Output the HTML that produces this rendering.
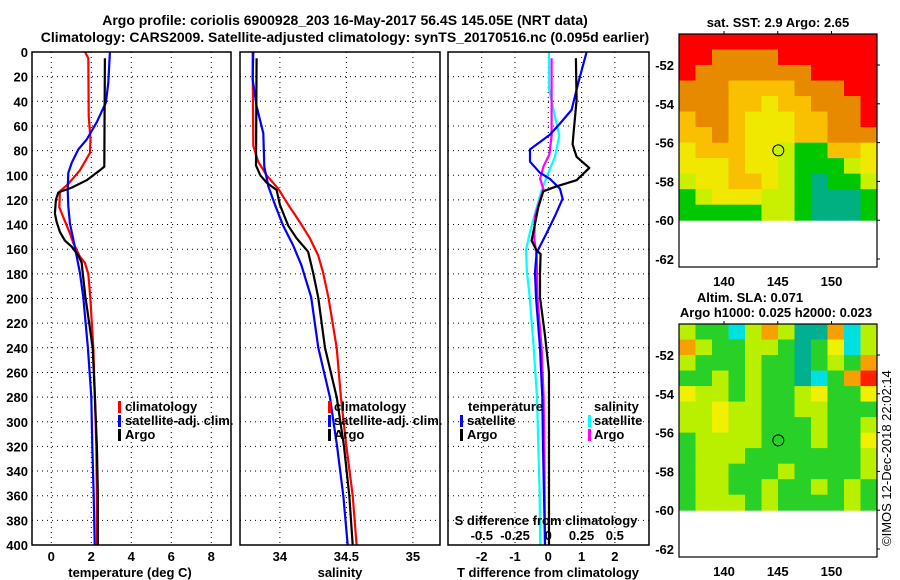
<!DOCTYPE html>
<html><head><meta charset="utf-8">
<style>
body{margin:0;background:#fff;}
svg{display:block;font-family:"Liberation Sans",sans-serif;font-weight:bold;}
</style></head>
<body>
<svg id="chart" width="900" height="580" viewBox="0 0 900 580" xmlns="http://www.w3.org/2000/svg">
<text x="345" y="25" font-size="14" text-anchor="middle">Argo profile: coriolis 6900928_203 16-May-2017 56.4S 145.05E (NRT data)</text>
<text x="345" y="42" font-size="14" text-anchor="middle">Climatology: CARS2009. Satellite-adjusted climatology: synTS_20170516.nc (0.095d earlier)</text>
<g id="maps"></g>
<g id="panels"></g>
</svg>
<script>
// ---- profile data (depth in m) ----
const tClimDepth = [0,5,52,71,82,96,107,113,126,134,147,155,166,171,180,199,240,280,320,360,400];
const tClimVal   = [1.69,1.85,1.87,1.96,1.93,1.43,0.85,0.43,0.4,0.6,0.93,1.1,1.43,1.68,1.85,1.95,2.1,2.18,2.25,2.28,2.28];
const tSatDepth  = [0,25,41,57,71,79,90,98,112,125,139,152,166,179,199,240,280,320,360,400];
const tSatVal    = [2.93,2.85,2.73,2.27,1.77,1.35,1.02,0.85,0.82,0.85,0.93,1.1,1.27,1.43,1.6,1.83,2.0,2.05,2.12,2.17];
const tArgoDepth = [5,93,96,104,110,114,120,131,138,146,153,158,165,171,179,198,240,280,320,360,400];
const tArgoVal   = [2.68,2.65,2.43,1.77,1.02,0.35,0.23,0.18,0.27,0.43,0.68,1.02,1.35,1.52,1.57,1.7,2.07,2.18,2.28,2.33,2.33];

const sClimDepth = [0,76,89,100,111,124,138,151,165,179,199,240,280,320,360,400];
const sClimVal   = [33.795,33.8,33.837,33.9,33.988,34.063,34.15,34.225,34.288,34.325,34.365,34.427,34.459,34.5,34.547,34.577];
const sSatDepth  = [0,22,44,66,93,109,124,141,157,173,199,240,280,320,360,400];
const sSatVal    = [33.8,33.795,33.825,33.875,33.883,33.913,33.963,34.025,34.1,34.162,34.235,34.289,34.376,34.43,34.477,34.51];
const sArgoDepth = [5,92,100,106,112,124,141,151,162,179,199,240,280,320,360,400];
const sArgoVal   = [33.825,33.82,33.853,33.9,33.975,34.0,34.063,34.125,34.212,34.25,34.288,34.339,34.427,34.482,34.522,34.547];

const dTArgoDepth = [5,39,68,75,85,94,104,109,113,126,153,161,164,180,199,230,260,300,340,400];
const dTArgoVal   = [0.83,0.85,0.75,0.73,0.85,1.23,0.85,0.25,-0.15,-0.3,-0.5,-0.35,-0.23,-0.25,-0.25,-0.1,0.02,0.02,0.02,0.02];
const dTSatDepth  = [0,25,47,58,67,79,89,98,103,111,119,133,147,163,179,199,240,280,320,360,400];
const dTSatVal    = [1.15,0.9,0.7,0.35,0.05,-0.55,-0.55,-0.25,0.05,0.35,0.43,0.2,-0.05,-0.35,-0.4,-0.37,-0.25,-0.18,-0.16,-0.13,-0.1];
const dSSatDepth  = [0,30,52,68,85,98,112,131,147,161,179,199,240,280,320,360,400];
const dSSatVal    = [0.005,0.005,0.05,0.083,0.05,0,-0.05,-0.1,-0.14,-0.168,-0.16,-0.14,-0.11,-0.085,-0.075,-0.065,-0.062];
const dSArgoDepth = [5,68,83,93,103,111,133,152,166,199,240,280,320,360,400];
const dSArgoVal   = [0.025,0.025,0.008,-0.037,-0.062,-0.037,-0.1,-0.105,-0.087,-0.082,-0.05,-0.035,-0.03,-0.027,-0.025];

const depthTicks = [0,20,40,60,80,100,120,140,160,180,200,220,240,260,280,300,320,340,360,380,400];
const tempTicks = [0,2,4,6,8];
const salTicks = [34,34.5,35];
const salTickLabels = ["34","34.5","35"];
const dTTicks = [-2,-1,0,1,2];
const dSTicks = [-0.5,-0.25,0,0.25,0.5];
const dSTickLabels = ["-0.5","-0.25","0","0.25","0.5"];

// ---- map data (12x12 color-class grids, rows north->south) ----
const sstPalette = ["#00b080","#00c800","#c8f000","#f0e800","#f8c000","#e88a00","#ff0000"];
const sstGrid = [
[6,6,6,6,6,6,6,6,6,6,6,6],
[6,6,5,5,5,5,6,6,6,6,6,6],
[6,5,5,5,5,5,5,5,6,6,6,6],
[5,5,5,4,4,4,4,5,5,5,6,6],
[5,5,5,4,4,3,4,4,5,5,5,6],
[4,5,5,4,3,3,3,4,4,5,5,6],
[4,4,5,4,3,3,3,4,4,5,5,5],
[3,4,4,4,3,3,2,1,1,4,4,3],
[3,3,3,4,3,3,2,1,1,1,2,3],
[2,3,3,4,4,3,2,1,0,1,1,2],
[1,2,3,3,3,2,2,1,0,0,0,1],
[1,1,1,1,1,2,2,1,0,0,0,1]];
const slaPalette = ["#0000ff","#00e0e0","#00b090","#28d028","#b8f000","#f0f000","#f8a000","#ff2000"];
const slaGrid = [
[4,3,3,1,4,6,4,2,2,6,1,4],
[6,4,3,3,4,4,3,2,3,5,1,4],
[4,3,3,3,4,3,3,2,3,4,3,6],
[3,3,4,3,4,3,3,2,1,3,6,7],
[5,4,4,3,4,3,3,4,5,3,3,5],
[4,4,5,4,4,3,3,4,4,3,3,3],
[4,4,5,4,4,3,3,3,4,3,3,4],
[3,4,4,4,4,3,3,3,4,3,3,5],
[3,4,4,4,3,3,3,3,3,3,3,4],
[3,4,4,3,3,3,4,3,3,3,3,4],
[3,4,4,3,3,4,3,3,4,3,4,3],
[3,4,4,4,3,4,3,3,3,3,4,3]];
const latTicks = [-52,-54,-56,-58,-60,-62];
const lonTicks = [140,145,150];
const argoLon = 145.05, argoLat = -56.4;

const NS = "http://www.w3.org/2000/svg";
function mk(tag, attrs, parent){const e=document.createElementNS(NS,tag);for(const k in attrs)e.setAttribute(k,attrs[k]);parent.appendChild(e);return e;}
const panels = document.getElementById('panels');
const maps = document.getElementById('maps');

const yD = d => 52 + 1.2325*d;
const xT = t => 51.3 + 20*t;
const xS = s => 240 + 133*(s-33.7);
const xDT = v => 548.3 + 33.3*v;
const xDS = v => 548.3 + 133*v;

function frame(x0,x1,name){
  const g = mk('g',{},panels);
  
  
  depthTicks.forEach(d=>{
    const l = mk('line',{x1:x0,x2:x1,y1:yD(d),y2:yD(d),stroke:'#000','stroke-width':1,'stroke-dasharray':'1,4'},g);
    
    
  });
  return g;
}
function vgrid(g,xs){
  xs.forEach(x=>{
    const l = mk('line',{x1:x,x2:x,y1:52,y2:545,stroke:'#000','stroke-width':1,'stroke-dasharray':'1,4'},g);
    
    
  });
}
function border(g,x0,x1){
  const r = mk('rect',{x:x0,y:52,width:x1-x0,height:493,fill:'none',stroke:'#000','stroke-width':1.5},g);
  
  
}
function series(g,depths,vals,xf,color,w,name){
  const pts = depths.map((d,i)=>xf(vals[i]).toFixed(1)+','+yD(d).toFixed(1)).join(' ');
  const p = mk('polyline',{points:pts,fill:'none',stroke:color,'stroke-width':w,'stroke-linejoin':'round'},g);
  
  
}
function txt(g,x,y,s,size,anchor,name,fill){
  const t = mk('text',{x:x,y:y,'font-size':size,'text-anchor':anchor||'start',fill:fill||'#000'},g);
  t.textContent = s;
  
  
  return t;
}
function legBar(g,x,y,color){
  const r = mk('rect',{x:x,y:y-10,width:3,height:12,fill:color},g);
  
  
}

// Panel 1: temperature
let g1 = frame(32,231,'temperature-panel');
vgrid(g1, tempTicks.map(xT));
series(g1,tClimDepth,tClimVal,xT,'#ff0000',2.2,'temp-climatology-line');
series(g1,tSatDepth,tSatVal,xT,'#0000ff',2.2,'temp-satellite-line');
series(g1,tArgoDepth,tArgoVal,xT,'#000',2.2,'temp-argo-line');
border(g1,32,231);
depthTicks.forEach(d=>txt(g1,28,yD(d)+5,String(d),13,'end','depth-tick-label'));
tempTicks.forEach(t=>txt(g1,xT(t),561,String(t),13,'middle','temp-tick-label'));
txt(g1,130,577,'temperature (deg C)',13,'middle','temp-axis-title');
legBar(g1,118,411,'#ff0000'); txt(g1,125,411,'climatology',13,'start','legend-climatology');
legBar(g1,118,425,'#0000ff'); txt(g1,125,425,'satellite-adj. clim.',13,'start','legend-satellite');
legBar(g1,118,439,'#000'); txt(g1,125,439,'Argo',13,'start','legend-argo');

// Panel 2: salinity
let g2 = frame(240,440,'salinity-panel');
vgrid(g2, salTicks.map(xS));
series(g2,sClimDepth,sClimVal,xS,'#ff0000',2.2,'sal-climatology-line');
series(g2,sSatDepth,sSatVal,xS,'#0000ff',2.2,'sal-satellite-line');
series(g2,sArgoDepth,sArgoVal,xS,'#000',2.2,'sal-argo-line');
border(g2,240,440);
salTicks.forEach((s,i)=>txt(g2,xS(s),561,salTickLabels[i],13,'middle','sal-tick-label'));
txt(g2,340,577,'salinity',13,'middle','sal-axis-title');
legBar(g2,328,411,'#ff0000'); txt(g2,334,411,'climatology',13,'start','legend-climatology');
legBar(g2,328,425,'#0000ff'); txt(g2,334,425,'satellite-adj. clim.',13,'start','legend-satellite');
legBar(g2,328,439,'#000'); txt(g2,334,439,'Argo',13,'start','legend-argo');

// Panel 3: differences
let g3 = frame(448,649,'difference-panel');
vgrid(g3, dTTicks.map(xDT));
series(g3,dSSatDepth,dSSatVal,xDS,'#00ffff',2.2,'sdiff-satellite-line');
series(g3,dSArgoDepth,dSArgoVal,xDS,'#ff00ff',2.2,'sdiff-argo-line');
series(g3,dTSatDepth,dTSatVal,xDT,'#0000ff',2.2,'tdiff-satellite-line');
series(g3,dTArgoDepth,dTArgoVal,xDT,'#000',2.2,'tdiff-argo-line');
border(g3,448,649);
dTTicks.forEach(t=>txt(g3,xDT(t),561,String(t),13,'middle','tdiff-tick-label'));
txt(g3,548,577,'T difference from climatology',13,'middle','tdiff-axis-title');
txt(g3,546,525,'S difference from climatology',13,'middle','sdiff-axis-title');
dSTicks.forEach((s,i)=>txt(g3,xDS(s),540,dSTickLabels[i],13,'middle','sdiff-tick-label'));
txt(g3,468,411,'temperature',13,'start','legend-temperature-heading');
legBar(g3,460,425,'#0000ff'); txt(g3,467,425,'satellite',13,'start','legend-temp-satellite');
legBar(g3,460,439,'#000'); txt(g3,467,439,'Argo',13,'start','legend-temp-argo');
txt(g3,594,411,'salinity',13,'start','legend-salinity-heading');
legBar(g3,588,425,'#00ffff'); txt(g3,594,425,'satellite',13,'start','legend-sal-satellite');
legBar(g3,588,439,'#ff00ff'); txt(g3,594,439,'Argo',13,'start','legend-sal-argo');

// Maps
const mapX0=679, mapX1=877;
const lonX = lon => 724 + (lon-140)*10.75;
const latY = (lat,top) => top + 31 + (-52-lat)*19.4;
function drawMap(top,grid,pal,name,dotColor){
  const g = mk('g',{},maps);
  
  
  const x0=mapX0, yTop=top, yBot=latY(-60,top);
  const rows=grid.length, cols=grid[0].length;
  const cw=(mapX1-x0)/cols, ch=(yBot-yTop)/rows;
  grid.forEach((row,r)=>row.forEach((v,c)=>{
    const cell = mk('rect',{x:(x0+c*cw).toFixed(2),y:(yTop+r*ch).toFixed(2),width:(cw+0.5).toFixed(2),height:(ch+0.5).toFixed(2),fill:pal[v]},g);
    
    
  }));
  const fr = mk('rect',{x:x0,y:top,width:mapX1-x0,height:233,fill:'none',stroke:'#000','stroke-width':1.2},g);
  
  
  latTicks.forEach(l=>{
    const y=latY(l,top);
    const t = mk('line',{x1:mapX1,x2:mapX1+3,y1:y,y2:y,stroke:'#000'},g);
    
    
    txt(g,674,y+5,String(l),13,'end','lat-tick-label');
  });
  lonTicks.forEach(l=>{
    const x=lonX(l);
    const t = mk('line',{x1:x,x2:x,y1:top,y2:top-3,stroke:'#000'},g);
    
    
    txt(g,x,top+252,String(l),13,'middle','lon-tick-label');
  });
  const c = mk('circle',{cx:lonX(argoLon),cy:latY(argoLat,top),r:5.5,fill:dotColor,stroke:'#000','stroke-width':1},g);
  
  
  return g;
}
const mg1 = drawMap(34,sstGrid,sstPalette,'sst-map','#c8f000');
txt(mg1,778,27,'sat. SST: 2.9 Argo: 2.65',13,'middle','sst-map-title');
const mg2 = drawMap(324,slaGrid,slaPalette,'sla-map','#28d028');
txt(mg2,750,302,'Altim. SLA: 0.071',13,'middle','sla-map-title');
txt(mg2,776,317,'Argo h1000: 0.025 h2000: 0.023',13,'middle','sla-map-subtitle');
const cr = txt(maps,0,0,'©IMOS 12-Dec-2018 22:02:14',13,'start','imos-credit');
cr.setAttribute('font-weight','normal');
cr.setAttribute('transform','translate(891,546) rotate(-90)');
</script>
</body></html>
